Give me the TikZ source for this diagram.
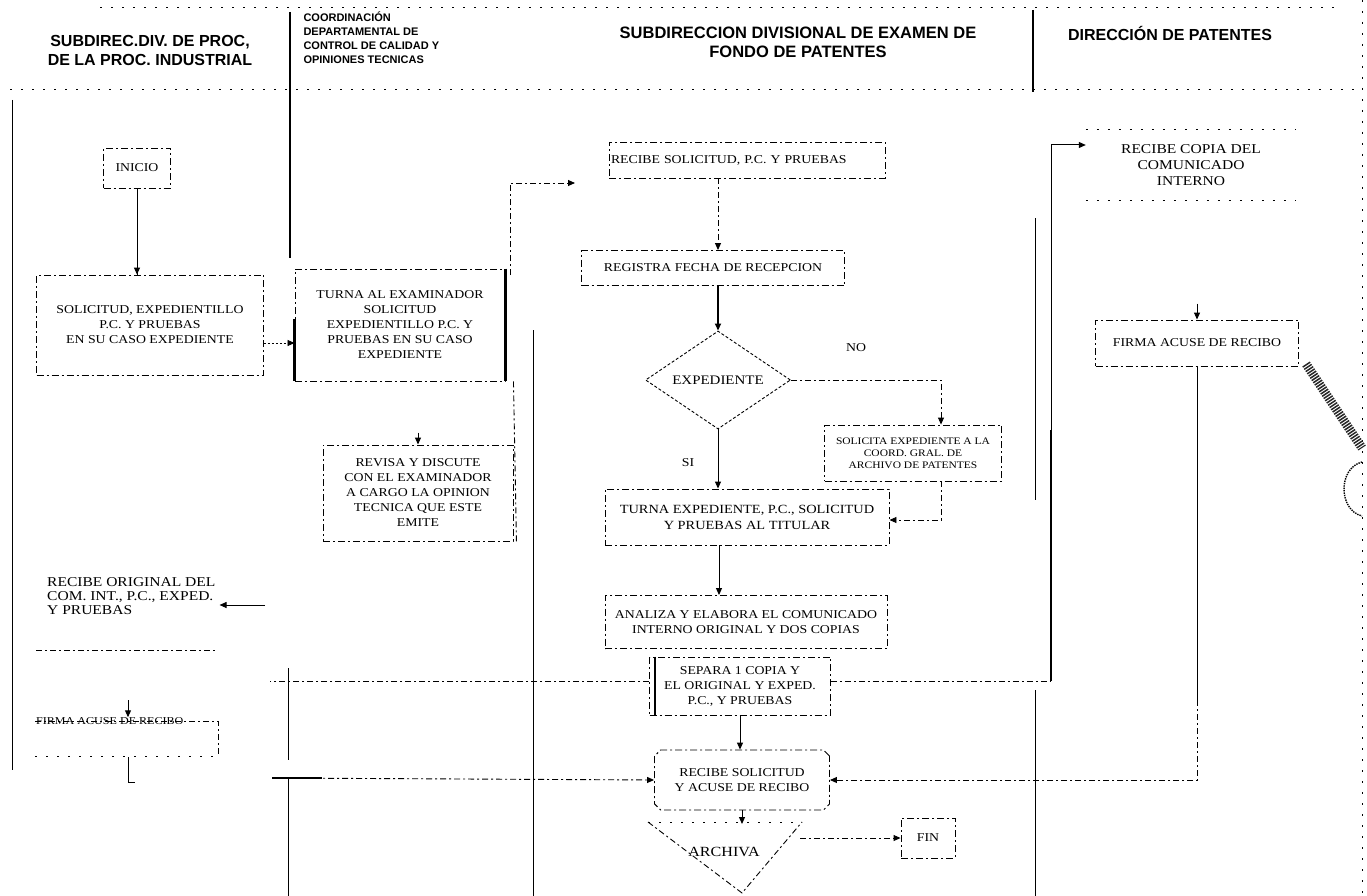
\documentclass[tikz,border=0pt]{standalone}
\usepackage{fontspec}
\setmainfont{Liberation Serif}
\newfontfamily\hdfont{Liberation Sans}
\newfontfamily\wfont[FakeStretch=1.15]{Liberation Serif}
\usetikzlibrary{arrows.meta, shapes.geometric, shapes.misc}

\begin{document}
\begin{tikzpicture}[x=1pt,y=-1pt,>={Triangle[length=7pt,width=6pt]},
  bx/.style={draw,line width=0.9pt,dash pattern=on 7pt off 3pt on 2pt off 3pt,align=center,inner sep=2pt,font=\wfont\fontsize{12}{15}\selectfont},
  hd/.style={font=\hdfont\bfseries\fontsize{16}{19}\selectfont,align=center},
  txt/.style={font=\wfont\fontsize{12}{15}\selectfont,align=left,inner sep=0pt},
  lbl/.style={font=\wfont\fontsize{12}{14}\selectfont,inner sep=0pt},
  dv/.style={line width=1pt},
  thk/.style={line width=2.4pt},
  dsh/.style={line width=0.9pt,dash pattern=on 6pt off 3pt on 2pt off 3pt},
  spd/.style={line width=1pt,dash pattern=on 2pt off 9pt}]

  \useasboundingbox (0,0) rectangle (1367,896);
  \fill[white] (0,0) rectangle (1367,896);

  % encabezados
  \node[hd] (h1) at (150,50) {SUBDIREC.DIV. DE PROC,\\DE LA PROC. INDUSTRIAL};
  \node[hd,align=left,anchor=north west,font=\hdfont\bfseries\fontsize{11}{14}\selectfont] (h2) at (300,8) {COORDINACIÓN\\DEPARTAMENTAL DE\\CONTROL DE CALIDAD Y\\OPINIONES TECNICAS};
  \node[hd,font=\hdfont\bfseries\fontsize{16.5}{19}\selectfont] (h3) at (798,42) {SUBDIRECCION DIVISIONAL DE EXAMEN DE\\FONDO DE PATENTES};
  \node[hd] (h4) at (1170,33) {DIRECCIÓN DE PATENTES};

  % lineas de carriles
  \draw[spd] (100,8) -- (1340,8);
  \draw[spd] (10,90) -- (1355,90);
  \draw[spd] (1362,0) -- (1362,896);
  \draw[thk] (290,12) -- (290,258);
  \draw[thk] (1033,10) -- (1033,92);
  \draw[dv] (12,100) -- (12,770);
  \draw[dv] (533,330) -- (533,896);
  \draw[dv] (288,668) -- (288,760);
  \draw[dv] (288,778) -- (288,896);
  \draw[dv] (1035,218) -- (1035,500);
  \draw[dv] (1035,690) -- (1035,896);

  % subdireccion de proc. industrial
  \node[bx,minimum width=67pt,minimum height=40pt] (ini) at (137,168) {INICIO};
  \node[bx,minimum width=227pt,minimum height=100pt] (sol) at (150,325) {SOLICITUD, EXPEDIENTILLO\\P.C. Y PRUEBAS\\EN SU CASO EXPEDIENTE};
  \node[txt,anchor=north west,font=\wfont\fontsize{13.5}{14}\selectfont] (ori) at (47,577) {RECIBE ORIGINAL DEL\\COM. INT., P.C., EXPED.\\Y PRUEBAS};
  \node[txt,anchor=west,font=\wfont\fontsize{10.5}{12}\selectfont] (fir1) at (36,721) {FIRMA ACUSE DE RECIBO};
  \draw[dsh] (36,650) -- (215,650);
  \draw[dsh] (35,721) -- (218,721) -- (218,754);
  \draw[spd] (35,756) -- (218,756);
  \coordinate (oa) at (265,605);
  \coordinate (fa) at (128,700);
  \draw[dv] (ini.south) -- (sol.north -| ini.south);
  \draw[->,dv] (137,255) -- (sol.north -| ini.south);
  \draw[->,dv] (oa) -- ([xshift=4pt]ori.east |- oa);
  \draw[->,dv] (fa) -- (fa |- fir1.north);
  \draw[dv] (128,757) -- (128,782) -- (135,782);

  % coordinacion
  \node[bx,minimum width=210pt,minimum height=112pt] (tur) at (400,325) {TURNA AL EXAMINADOR\\SOLICITUD\\EXPEDIENTILLO P.C. Y\\PRUEBAS EN SU CASO\\EXPEDIENTE};
  \node[bx,minimum width=190pt,minimum height=96pt] (rev) at (418,493) {REVISA Y DISCUTE\\CON EL EXAMINADOR\\A CARGO LA OPINION\\TECNICA QUE ESTE\\EMITE};
  \coordinate (ta) at (575,183);
  \draw[thk] (tur.north east) -- (tur.south east);
  \draw[thk] ([yshift=-50pt]tur.north west) -- (tur.south west);
  \draw[->,line width=0.8pt,dash pattern=on 2pt off 2pt] ([yshift=-18pt]sol.east) -- ([yshift=-18pt]tur.west);
  \draw[->,dsh] ([xshift=5pt,yshift=50pt]tur.east) |- (ta);
  \draw[dsh] ([xshift=8pt]tur.south east) -- ([xshift=3pt]rev.south east);
  \draw[->,dv] ([yshift=12pt]rev.north) -- (rev.north);

  % subdireccion de examen de fondo
  \node[bx,align=left,text width=272pt,minimum height=36pt] (rs) at (747,160) {RECIBE SOLICITUD, P.C. Y PRUEBAS};
  \node[bx,minimum width=263pt,minimum height=35pt] (reg) at (713,268) {REGISTRA FECHA DE RECEPCION};
  \node[draw,diamond,aspect=1.5,line width=0.9pt,dash pattern=on 3pt off 2pt,minimum width=145pt,minimum height=98pt,inner sep=0pt,font=\wfont\fontsize{13}{14}\selectfont] (dia) at (718,380) {EXPEDIENTE};
  \node[bx,minimum width=177pt,minimum height=56pt,font=\wfont\fontsize{10}{12}\selectfont] (sa) at (913,453) {SOLICITA EXPEDIENTE A LA\\COORD. GRAL. DE\\ARCHIVO DE PATENTES};
  \node[bx,minimum width=284pt,minimum height=56pt,font=\wfont\fontsize{12.5}{16}\selectfont] (te) at (747,517) {TURNA EXPEDIENTE, P.C., SOLICITUD\\Y PRUEBAS AL TITULAR};
  \node[bx,minimum width=282pt,minimum height=53pt] (an) at (746,622) {ANALIZA Y ELABORA EL COMUNICADO\\INTERNO ORIGINAL Y DOS COPIAS};
  \node[bx,minimum width=181pt,minimum height=58pt] (sep) at (740,686) {SEPARA 1 COPIA Y\\EL ORIGINAL Y EXPED.\\P.C., Y PRUEBAS};
  \node[bx,chamfered rectangle,minimum width=175pt,minimum height=60pt] (ra) at (742,780) {RECIBE SOLICITUD\\Y ACUSE DE RECIBO};
  \node[lbl,font=\wfont\fontsize{14}{16}\selectfont] (arch) at (724,852) {ARCHIVA};
  \node[bx,minimum width=54pt,minimum height=40pt] (fin) at (928,838) {FIN};
  \node[lbl] (no) at (856,348) {NO};
  \node[lbl] (si) at (688,463) {SI};
  \draw[dsh] (648,822) -- (742,893) -- (802,822);
  \draw[spd] (648,822) -- (802,822);
  \coordinate (at) at (742,824);
  \coordinate (ar) at (800,838);
  \coordinate (sr) at (1051,681);
  \coordinate (su) at (1051,430);
  \coordinate (la) at (272,778);
  \draw[thk] ([xshift=6pt]sep.north west) -- ([xshift=6pt]sep.south west);
  \draw[->,dsh] (rs.south -| dia.north) -- (reg.north -| dia.north);
  \draw[->,line width=1.8pt] (reg.south -| dia.north) -- (dia.north);
  \draw[->,dsh] (dia.east) -| ([xshift=28pt]sa.north);
  \draw[->,dv] (dia.south) -- (te.north -| dia.south);
  \draw[->,dsh] ([xshift=28pt]sa.south) |- ([yshift=-3pt]te.east);
  \draw[->,dv] ([xshift=-28pt]te.south) -- ([xshift=-28pt]te.south |- an.north);
  \draw[dsh] ([yshift=5pt]sep.west) -- (270,681);
  \draw[dsh] ([yshift=5pt]sep.east) -- (sr);
  \draw[thk] (sr) -- (su);
  \draw[->,dv] (ra.south) -- (at);
  \draw[->,dsh] (ar) -- (fin.west);
  \draw[line width=1.8pt] (la) -- ++(50,0);
  \draw[->,dsh] (la) -- (ra.west);

  % direccion de patentes
  \node[txt,align=center,minimum width=210pt,minimum height=70pt,font=\wfont\fontsize{13.5}{16}\selectfont] (rc) at (1191,165) {RECIBE COPIA DEL\\COMUNICADO\\INTERNO};
  \node[bx,minimum width=203pt,minimum height=46pt] (f2) at (1197,343) {FIRMA ACUSE DE RECIBO};
  \draw[spd] (rc.north west) -- (rc.north east);
  \draw[spd] (rc.south west) -- (rc.south east);
  \draw[->,dv] (su) |- ([yshift=20pt]rc.west);
  \draw[->,dv] (sep.south) -- (ra.north -| sep.south);
  \draw[->,dv] ([yshift=16pt]f2.north) -- (f2.north);
  \draw[dv] (f2.south) -- (1197,700);
  \draw[->,dsh] (1197,700) |- (ra.east);

  % mancha del sello
  \draw[line width=9pt,dash pattern=on 1.5pt off 1.2pt,black!85] (1306,364) -- (1362,448);
  \draw[line width=1.4pt,densely dotted] (1362,462) .. controls (1338,468) and (1338,510) .. (1362,516);
\end{tikzpicture}
\end{document}
